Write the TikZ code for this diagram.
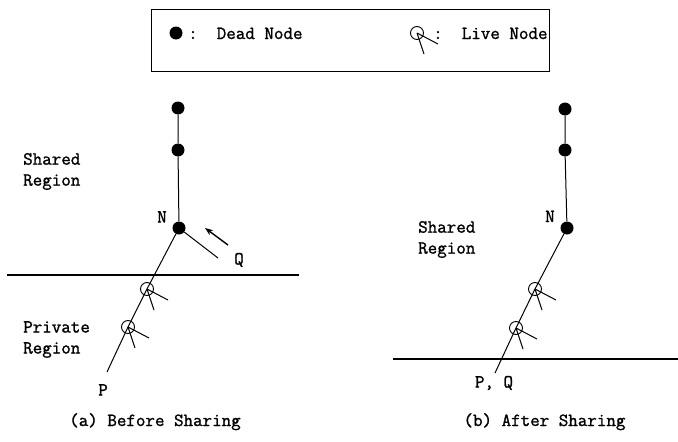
\documentclass[tikz,border=0pt]{standalone}
\usepackage{fontspec}
\setmonofont{Latin Modern Mono}[FakeBold=1.3]
\usetikzlibrary{arrows.meta}
\begin{document}
\begin{tikzpicture}[x=1pt,y=-1pt,
  lbl/.style={font=\ttfamily\fontsize{18.5}{21}\selectfont, inner sep=0pt},
  dead/.style={circle, fill=black, minimum size=13pt, inner sep=0pt},
  live/.style={circle, draw, minimum size=13pt, inner sep=0pt, line width=0.9pt},
  edgeln/.style={line width=1pt},
  sepln/.style={line width=1.5pt},
  ptr/.style={-{Stealth[length=8pt,width=6pt]}, line width=1.4pt}]
\useasboundingbox (0,0) rectangle (678,442);
% legend
\node[draw, line width=1.3pt, minimum width=398pt, minimum height=62pt, inner sep=0pt, anchor=north west] (legend) at (150.5,9) {};
\node[dead] (legdead) at (176,33) {};
\node[lbl, anchor=base west] (legdeadtxt) at (188,39) {:~~Dead Node};
\node[live] (leglive) at (417,33) {};
\node[lbl, anchor=base west] (leglivetxt) at (433,39) {:~~Live Node};
% (a) before sharing
\node[dead] (la1) at (178,108) {};
\node[dead] (la2) at (178,150) {};
\node[dead] (lN) at (179,228) {};
\node[live] (ll1) at (147,289) {};
\node[live] (ll2) at (128,327) {};
\coordinate (lP) at (107,372);
\coordinate (lQ) at (218,258);
\coordinate (arrS) at (228,245);
\coordinate (arrE) at (205,228);
\coordinate (lsepL) at (7,275);
\coordinate (lsepR) at (299,275);
\node[lbl, anchor=base] (lNl) at (162,222.5) {N};
\node[lbl, anchor=base] (lQl) at (239,264.5) {Q};
\node[lbl, anchor=base] (lPl) at (103,395.5) {P};
\node[lbl, align=left, anchor=west] (lshared) at (23,171.5) {Shared\\Region};
\node[lbl, align=left, anchor=west] (lpriv) at (23,339.5) {Private\\Region};
\node[lbl, anchor=base] (lcap) at (155,426) {(a) Before Sharing};
\draw[edgeln] (la1) -- (la2) -- (lN) -- (ll1.center) -- (ll2.center) -- (lP);
\draw[edgeln] (lN) -- (lQ);
\draw[ptr] (arrS) -- (arrE);
\draw[sepln] (lsepL) -- (lsepR);
% (b) after sharing
\node[dead] (ra1) at (565,109) {};
\node[dead] (ra2) at (565,150) {};
\node[dead] (rN) at (567,228) {};
\node[live] (rl1) at (535,289) {};
\node[live] (rl2) at (516,328) {};
\coordinate (rP) at (495,373);
\coordinate (rsepL) at (393,359);
\coordinate (rsepR) at (678,359);
\node[lbl, anchor=base] (rNl) at (550,222) {N};
\node[lbl, anchor=base] (rPQl) at (494,387.5) {P, Q};
\node[lbl, align=left, anchor=west] (rshared) at (418,239.5) {Shared\\Region};
\node[lbl, anchor=base] (rcap) at (544.5,426) {(b) After Sharing};
\draw[edgeln] (ra1) -- (ra2) -- (rN) -- (rl1.center) -- (rl2.center) -- (rP);
\draw[sepln] (rsepL) -- (rsepR);
% live-node ticks
\foreach \n in {leglive, ll1, ll2, rl1, rl2}
  \draw[edgeln] (\n.center) -- ++(21,11) (\n.center) -- ++(7,21);
\end{tikzpicture}
\end{document}
